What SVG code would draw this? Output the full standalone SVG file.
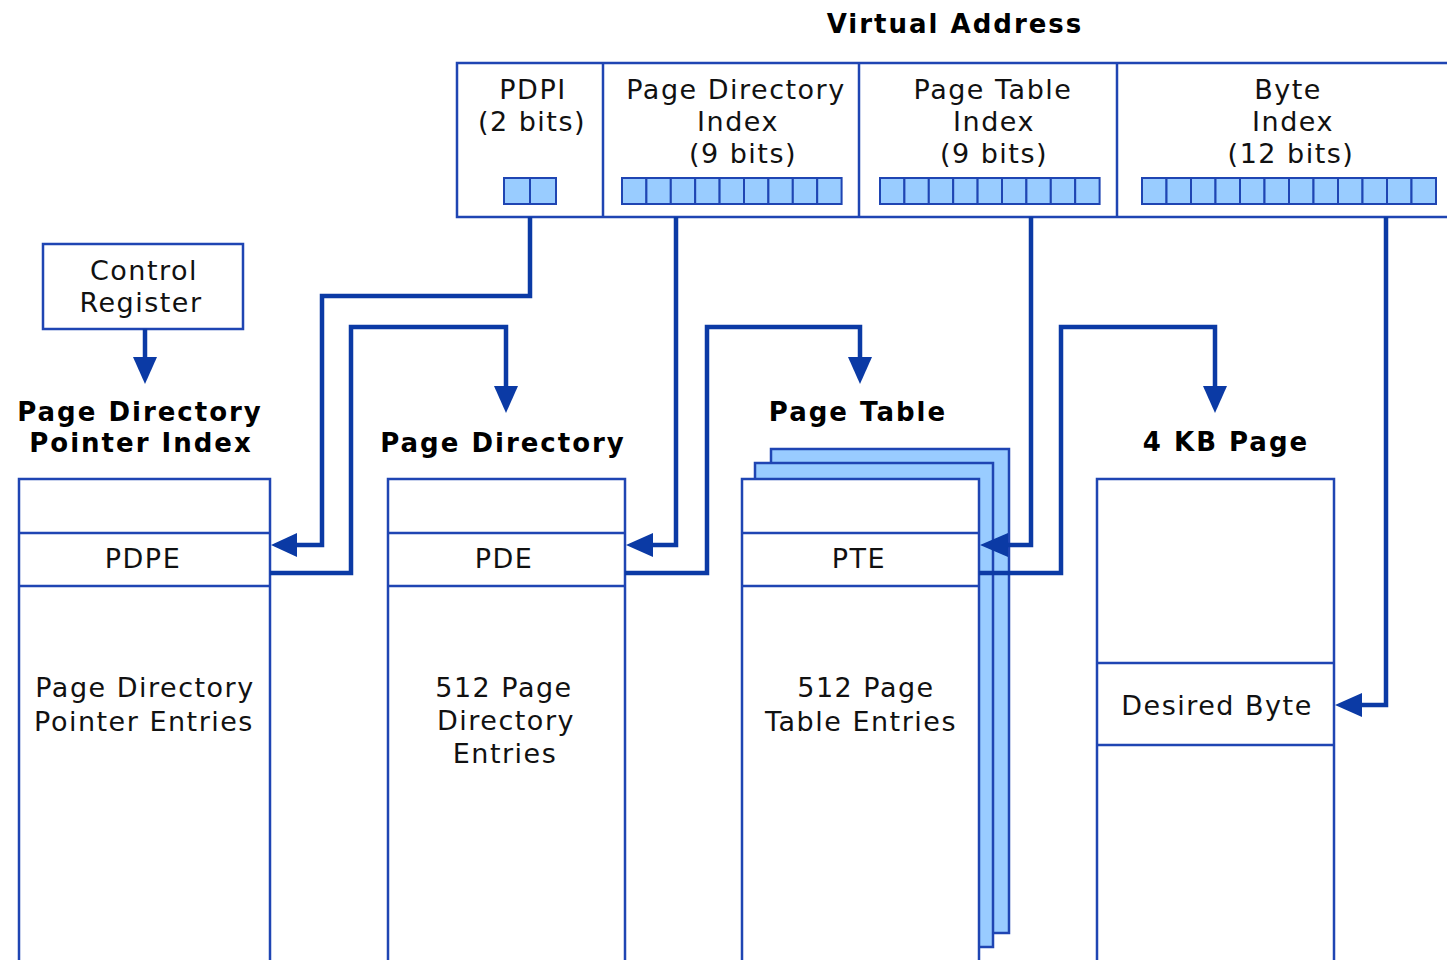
<svg xmlns="http://www.w3.org/2000/svg" width="1447" height="960" viewBox="0 0 1447 960">
  <style>
    .box { fill: #ffffff; stroke: #1f45b3; stroke-width: 2.5; }
    .sheet { fill: #99ccff; stroke: #1f45b3; stroke-width: 2.5; }
    .cell { fill: #99ccff; stroke: #1f45b3; stroke-width: 2; }
    .rule { stroke: #1f45b3; stroke-width: 2.5; fill: none; }
    .wire { stroke: #0b3aa5; stroke-width: 4.5; fill: none; stroke-linejoin: miter; }
    .head { fill: #0b3aa5; }
    .t { font-family: "DejaVu Sans", Verdana, sans-serif; font-size: 27px; letter-spacing: 1.5px; fill: #111111; text-anchor: middle; }
    .h { font-family: "DejaVu Sans", Verdana, sans-serif; font-size: 26px; font-weight: bold; letter-spacing: 2px; fill: #000000; text-anchor: middle; }
  </style>

  <!-- Virtual address register -->
  <g id="virtual-address">
    <text class="h" x="955" y="33">Virtual Address</text>
    <rect class="box" x="457" y="63" width="1010" height="154"/>
    <line class="rule" x1="603" y1="63" x2="603" y2="217"/>
    <line class="rule" x1="859" y1="63" x2="859" y2="217"/>
    <line class="rule" x1="1117" y1="63" x2="1117" y2="217"/>

    <g id="pdpi-field">
      <text class="t" x="533" y="99">PDPI</text>
      <text class="t" x="532" y="131">(2 bits)</text>
      <rect class="cell" x="504" y="178" width="26" height="26"/>
      <rect class="cell" x="530" y="178" width="26" height="26"/>
    </g>

    <g id="pd-index-field">
      <text class="t" x="736" y="99">Page Directory</text>
      <text class="t" x="738" y="131">Index</text>
      <text class="t" x="743" y="163">(9 bits)</text>
      <g>
        <rect class="cell" x="622" y="178" width="24.4" height="26"/>
        <rect class="cell" x="646.4" y="178" width="24.4" height="26"/>
        <rect class="cell" x="670.8" y="178" width="24.4" height="26"/>
        <rect class="cell" x="695.2" y="178" width="24.4" height="26"/>
        <rect class="cell" x="719.6" y="178" width="24.4" height="26"/>
        <rect class="cell" x="744" y="178" width="24.4" height="26"/>
        <rect class="cell" x="768.4" y="178" width="24.4" height="26"/>
        <rect class="cell" x="792.8" y="178" width="24.4" height="26"/>
        <rect class="cell" x="817.2" y="178" width="24.4" height="26"/>
      </g>
    </g>

    <g id="pt-index-field">
      <text class="t" x="993" y="99">Page Table</text>
      <text class="t" x="994" y="131">Index</text>
      <text class="t" x="994" y="163">(9 bits)</text>
      <g>
        <rect class="cell" x="880" y="178" width="24.4" height="26"/>
        <rect class="cell" x="904.4" y="178" width="24.4" height="26"/>
        <rect class="cell" x="928.8" y="178" width="24.4" height="26"/>
        <rect class="cell" x="953.2" y="178" width="24.4" height="26"/>
        <rect class="cell" x="977.6" y="178" width="24.4" height="26"/>
        <rect class="cell" x="1002" y="178" width="24.4" height="26"/>
        <rect class="cell" x="1026.4" y="178" width="24.4" height="26"/>
        <rect class="cell" x="1050.8" y="178" width="24.4" height="26"/>
        <rect class="cell" x="1075.2" y="178" width="24.4" height="26"/>
      </g>
    </g>

    <g id="byte-index-field">
      <text class="t" x="1288" y="99">Byte</text>
      <text class="t" x="1293" y="131">Index</text>
      <text class="t" x="1291" y="163">(12 bits)</text>
      <g>
        <rect class="cell" x="1142" y="178" width="24.5" height="26"/>
        <rect class="cell" x="1166.5" y="178" width="24.5" height="26"/>
        <rect class="cell" x="1191" y="178" width="24.5" height="26"/>
        <rect class="cell" x="1215.5" y="178" width="24.5" height="26"/>
        <rect class="cell" x="1240" y="178" width="24.5" height="26"/>
        <rect class="cell" x="1264.5" y="178" width="24.5" height="26"/>
        <rect class="cell" x="1289" y="178" width="24.5" height="26"/>
        <rect class="cell" x="1313.5" y="178" width="24.5" height="26"/>
        <rect class="cell" x="1338" y="178" width="24.5" height="26"/>
        <rect class="cell" x="1362.5" y="178" width="24.5" height="26"/>
        <rect class="cell" x="1387" y="178" width="24.5" height="26"/>
        <rect class="cell" x="1411.5" y="178" width="24.5" height="26"/>
      </g>
    </g>
  </g>

  <!-- Control register -->
  <g id="control-register">
    <rect class="box" x="43" y="244" width="200" height="85"/>
    <text class="t" x="144" y="280">Control</text>
    <text class="t" x="141" y="312">Register</text>
  </g>

  <!-- Page directory pointer table -->
  <g id="pdp-table">
    <text class="h" x="140" y="421">Page Directory</text>
    <text class="h" x="141" y="452">Pointer Index</text>
    <rect class="box" x="19" y="479" width="251" height="500"/>
    <line class="rule" x1="19" y1="533" x2="270" y2="533"/>
    <line class="rule" x1="19" y1="586" x2="270" y2="586"/>
    <text class="t" x="143" y="568">PDPE</text>
    <text class="t" x="145" y="697">Page Directory</text>
    <text class="t" x="144" y="731">Pointer Entries</text>
  </g>

  <!-- Page directory -->
  <g id="page-directory">
    <text class="h" x="503" y="452">Page Directory</text>
    <rect class="box" x="388" y="479" width="237" height="500"/>
    <line class="rule" x1="388" y1="533" x2="625" y2="533"/>
    <line class="rule" x1="388" y1="586" x2="625" y2="586"/>
    <text class="t" x="504" y="568">PDE</text>
    <text class="t" x="504" y="697">512 Page</text>
    <text class="t" x="506" y="730">Directory</text>
    <text class="t" x="505" y="763">Entries</text>
  </g>

  <!-- Page table (stack of tables) -->
  <g id="page-table">
    <text class="h" x="858" y="421">Page Table</text>
    <rect class="sheet" x="771" y="449" width="238" height="484"/>
    <rect class="sheet" x="755" y="463" width="238" height="484"/>
    <rect class="box" x="742" y="479" width="237" height="500"/>
    <line class="rule" x1="742" y1="533" x2="979" y2="533"/>
    <line class="rule" x1="742" y1="586" x2="979" y2="586"/>
    <text class="t" x="859" y="568">PTE</text>
    <text class="t" x="866" y="697">512 Page</text>
    <text class="t" x="861" y="731">Table Entries</text>
  </g>

  <!-- 4 KB page -->
  <g id="page-4kb">
    <text class="h" x="1226" y="451">4 KB Page</text>
    <rect class="box" x="1097" y="479" width="237" height="500"/>
    <line class="rule" x1="1097" y1="663" x2="1334" y2="663"/>
    <line class="rule" x1="1097" y1="745" x2="1334" y2="745"/>
    <text class="t" x="1217" y="715">Desired Byte</text>
  </g>

  <!-- Connectors -->
  <g id="connectors">
    <!-- control register to PDP table -->
    <path class="wire" d="M145 329 V358"/>
    <polygon class="head" points="133,357 157,357 145,384"/>

    <!-- PDPI selects PDPE -->
    <path class="wire" d="M530 217 V296 H322 V545 H296"/>
    <polygon class="head" points="297,533 297,557 271,545"/>

    <!-- PDPE points to page directory -->
    <path class="wire" d="M270 573 H351 V327 H506 V388"/>
    <polygon class="head" points="494,386 518,386 506,413"/>

    <!-- PD index selects PDE -->
    <path class="wire" d="M676 217 V545 H652"/>
    <polygon class="head" points="653,533 653,557 626,545"/>

    <!-- PDE points to page table -->
    <path class="wire" d="M625 573 H707 V327 H860 V358"/>
    <polygon class="head" points="848,357 872,357 860,384"/>

    <!-- PT index selects PTE -->
    <path class="wire" d="M1031 217 V545 H1006"/>
    <polygon class="head" points="1008,533 1008,557 980,545"/>

    <!-- PTE points to 4 KB page -->
    <path class="wire" d="M979 573 H1061 V327 H1215 V388"/>
    <polygon class="head" points="1203,386 1227,386 1215,413"/>

    <!-- byte index selects desired byte -->
    <path class="wire" d="M1386 217 V705 H1360"/>
    <polygon class="head" points="1362,693 1362,717 1335,705"/>
  </g>
</svg>
